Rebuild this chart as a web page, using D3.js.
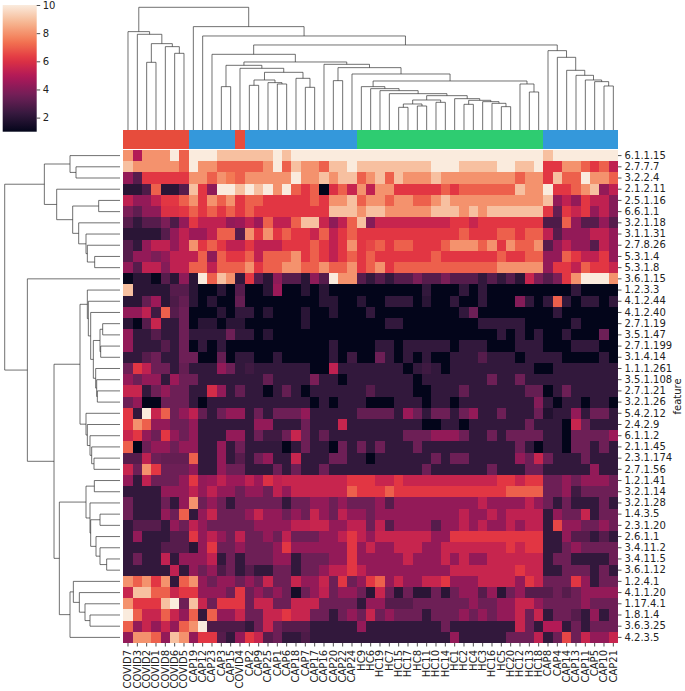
<!DOCTYPE html>
<html><head><meta charset="utf-8">
<script src="https://cdn.jsdelivr.net/npm/d3@7"></script>
<style>body{margin:0;background:#fff} text{font-family:"DejaVu Sans",sans-serif;fill:#222}</style>
</head><body><svg id="c" width="685" height="691"></svg>
<script>
const colLabels = ["COVID7","COVID3","COVID2","COVID1","COVID8","COVID6","COVID5","CAP19","CAP12","CAP23","CAP3","CAP15","COVID4","CAP2","CAP9","CAP25","CAP1","CAP6","CAP18","CAP7","CAP17","CAP16","CAP20","CAP22","CAP24","HC9","HC6","HC19","HC7","HC15","HC17","HC8","HC11","HC10","HC14","HC1","HC2","HC4","HC3","HC16","HC5","HC20","HC12","HC13","HC18","CAP8","CAP4","CAP14","CAP13","CAP11","CAP5","CAP10","CAP21"];
const rowLabels = ["6.1.1.15","2.7.7.7","3.2.2.4","2.1.2.11","2.5.1.16","6.6.1.1","3.2.1.18","3.1.1.31","2.7.8.26","5.3.1.4","5.3.1.8","3.6.1.15","1.2.3.3","4.1.2.44","4.1.2.40","2.7.1.19","3.5.1.47","2.7.1.199","3.1.4.14","1.1.1.261","3.5.1.108","2.7.1.21","3.2.1.26","5.4.2.12","2.4.2.9","6.1.1.2","2.1.1.45","2.3.1.174","2.7.1.56","1.2.1.41","3.2.1.14","3.2.1.28","1.4.3.5","2.3.1.20","2.6.1.1","3.4.11.2","3.4.11.5","3.6.1.12","1.2.4.1","4.1.1.20","1.17.4.1","1.8.1.4","3.6.3.25","4.2.3.5"];
const groups = ["COVID","CAP","HC"];
const groupColors = ["#e74c3c","#3498db","#2ecc71"];
const cbTicks = [2,4,6,8,10];
const vmin = 1, vmax = 10;
const values = [
[8,5,8,8,8,10,7,10,10,10,9,9,9,9,9,9,10,9,10,10,10,10,10,10,10,10,10,10,10,10,10,10,10,10,10,10,10,10,10,10,10,10,10,10,10,9,10,10,10,10,10,10,10],
[9,8,8,8,8,8,7,10,8,8,7,7,7,7,7,8,10,7,9,8,8,7,9,9,10,9,9,9,9,9,9,9,9,10,10,10,9,9,9,9,10,10,9,9,10,6.2,6.2,8,8,7,6.2,7,5.3],
[4.3,3,6.2,6.2,6.2,6.2,6.2,8,8,7,8,7.5,7,8,8,8,8,8,10,8,8,9,8,9,9,7,8,9,7,9,8,8,8,9,8,8,8,8,8,8,8,8,7,8,8,6.2,9,7,7,10,8,8,7],
[2,2,2.8,7,2,2,3,9,6.2,4.2,10,10,9,10,9,10,8,10,7,6.2,7,1,6,7,5.5,8,5.3,8,8,6.2,6.2,6.2,6.2,6.2,7,6.2,7,7,7,7,7,7,9,8,8,10,6.2,6.2,7,8,9,4.3,5.3],
[5.3,4.3,4.3,5.3,6.2,6.2,7,8,6.2,8,7,8,6.2,7,7,6.2,6.2,6.2,6.2,6.2,7,6.2,8,8,9,7,8,8,7,8,8,7,7,8,9,8,8,8,8,8,8,8,8,8,8,9,4.3,5.3,4.3,6.2,5.3,5.3,4],
[3.8,3.2,4.2,4.2,6,6,6.2,7,6.2,7,6.2,7,6.2,7,6.2,6.2,6.2,6.2,6.2,6.2,6.2,6.2,9,9,9,8,9,9,8,8,8,8,8,9,9,9,8,9,8,9,9,9,9,9,9,6.2,3.3,6.2,5.5,6.2,4.3,5.3,4],
[3,2.2,3,3,3.8,2.8,4.3,6.2,5.3,5.3,5.3,4.3,4.5,5.3,4.5,7,5.3,5.3,7,9,9,5.5,4.2,5.3,7,9,4,5.5,5.5,5.5,5.5,5.5,5.5,5.5,5.5,6.2,6.2,5.5,6.2,6.2,6.2,6.2,6.2,6.2,6.2,2.8,2.8,7,4.3,3,3,4.3,3],
[2,2,2,2,3,4.3,5.3,4.5,4.5,5.3,7,7,3,8,6.2,8,6.2,7,6.2,6.2,5.5,7,5.3,6.2,7,6.2,6.2,6.2,6.2,6.2,6.2,6.2,6.2,6.2,6.2,6.2,7,6.2,6.2,6.2,7,7,6.2,7,7,5.3,3,4.3,4.3,4.3,5.3,5.3,4.3],
[3,2.2,4.3,5.3,5.3,4.3,5.3,8,6.2,7,6.2,5.3,5.3,6.2,5.3,5.3,5.3,6.2,6.2,6.2,7,6.2,5.3,6.2,8,6.2,6.5,7,6.2,7,7,6.2,6.2,6.2,7,8,8,8,7,8,6.2,8,7,7,8,3,4.3,5.3,4.3,4.3,3,5.3,4.3],
[3,4.3,4.3,3.8,4.3,5.3,5.3,5.3,7,4.2,7,6.2,6.2,7,5.3,7,7,7,8,6.2,7,6.2,5.3,6.2,7,6.2,7,6.2,6.2,6.2,6.2,6.2,6.2,7,6.2,6.2,6.2,6.2,6.2,6.2,7,6.2,6.2,7,7,4.3,4.3,7,6.2,5.3,5.3,6.2,4.3],
[4.3,3,5.3,5.3,4,5.3,5.3,7,7,5.3,7,7,7,8,6.2,7,7,8,8,7,7,8,7,7,8,6.2,7,8,6.2,7,7,7,7,7,7,7,7,7,7,7,8,8,8,8,8,4.3,6.2,6.2,5.3,7,6.2,6.2,5.5],
[1.1,2,2,1.1,3,2,4.2,2,10,7,9,8,2.2,6.2,3,2,4.2,3,3,2,4.2,3,10,8,8,3,2.2,3,2.2,3,3,3.8,3,3,3.8,3,3,3,2.2,3,2.2,3,2,5.5,3.8,3,3.8,6.2,8,10,10,10,8],
[9,2,2,2,2,3,3,2,1,1,2,1,3,1,1,2,4.5,1,1,2,1,2,1,1,1,1,1,1,1,1,1,1,2.2,1,1,1,2.2,1,2.2,1,1,1,1,1,1,1,1,1,2.2,1,1,1,1],
[2,2,3.3,4.5,2,2.8,3.3,2,1,2,1,1,3.3,1,1,1,1,1,1,1,1,2,2,1,1,2,1,1,2.2,2.2,2.2,1,2,1,1,2.2,1,1,2.2,1,1,1,4,2.2,1,2.2,7,2.2,1,2.2,2.2,1,2.2],
[4.3,4.3,5.3,2.5,7,3,3.5,1,1,1,2,1,2.2,2.2,1,2,1,1,1,2,1,1,2,1,1,1,2.2,1,1,1,1,1,1,1,1,1,2.2,3.5,1,1,1,1,1,1,1,1,2.2,1,1,1,1,1,1],
[2,1,3,5.5,2.2,2.2,3.5,1,2,2,1,2,2,1,1,1,1,1,1,2,1,1,1,1,1,1,1,1,2.2,2.2,1,1,1,1,1,1,1,1,2.2,2.2,2.2,2.2,2.2,1,1,1,1,1,2.2,1,1,1,1],
[4.3,2.2,2.2,3,2.2,2.2,3.5,2.2,2.2,2.2,2.2,3.5,2.2,2.2,1,2,1,1,1,1,1,1,1,1,1,1,1,1,1,1,1,1,1,1,1,1,1,1,1,1,2.2,1,2.2,1,2.2,1,1,2.2,1,1,1,3.5,1],
[4.3,2.2,2.2,2.2,3,2.2,3.5,1,2.2,1,2.2,1,1,1,1,1,1,1,1,1,1,1,2.2,1,1,1,1,2.2,2.2,1,2.2,2.2,2.2,2.2,2.2,1,2.2,2.2,2.2,1,1,1,2.2,2.2,2.2,1,1,1,2.2,2.2,2.2,1,1],
[2.2,2.2,3,3.5,2.2,2.2,3.5,3.5,1,1,3.3,1,2.2,2.2,1,1,2.2,1,1,1,1,1,2.2,1,2.5,1,1,3.5,2.2,1,2.2,1,2.2,1,1,2.2,2.2,2.2,3,2.2,2.2,2.2,1,2.2,2.2,2.2,2.2,1,1,1,1,2.2,1],
[3.5,6.2,5.3,3.5,3.5,2.2,3.3,2.2,2.2,2.2,4.3,3.5,2.2,2.5,2.2,2.2,2.2,2.2,2.2,2.2,1,1,5.3,2.2,2.2,2.2,2.2,2.2,2.2,2.2,1,2.2,2.5,2.2,1,2.2,2.2,2.2,2.2,2.2,2.2,2.2,2.2,2.2,1,1,2.2,2.2,2.2,2.2,2.2,2.2,2.2],
[4.3,3.5,4.3,4.3,2.2,4.5,3.5,3.5,2.2,2.2,2.2,2.2,2.2,2.2,2.2,3.3,2.2,2.2,2.2,2.2,3.8,2.2,2.2,1,2.2,2.2,2.2,2.2,2.2,2.2,2.2,1,2.2,2.2,2.2,2.2,2.2,2.2,2.2,3.5,2.2,2.2,3.5,2.2,2.2,2.2,2.2,2.2,2.2,2.2,2.2,2.2,2.2],
[5.5,5.5,2.2,3.5,4.3,3.5,3.5,2.2,2.2,5.8,4.3,2.2,3.3,2.2,2.2,1,2.2,3.3,2.2,1,2.2,2.2,2.2,2.2,2.2,2.2,3,2.2,2.2,2.2,2.2,1,1,2.2,2.2,2.2,3.3,2.2,2.2,2.2,2.2,2.2,2.2,3.3,3.3,1,2.2,3.5,2.2,2.2,2.2,2.2,2.2],
[3.5,4.3,1,1,3.5,3.5,3.5,2.2,1,2.2,2.2,2.2,2.2,2.2,2.2,2.2,2.2,2.2,2.2,2.2,1,2.2,1,2.2,2.2,2.2,1,1,1,2.2,2.2,2.2,1,2.2,2.2,1,2.2,2.2,2.2,2.2,2.2,2.2,2.2,2.2,4,2.2,1,2.2,2.2,1,2.2,2.2,1],
[6.2,2.2,10,5.5,7,3.5,4.3,5.3,3.3,2.2,3.5,4.3,4.3,2.2,3.5,2.2,3.5,3.5,3.5,4.3,2.2,2.2,2.2,2.2,2.2,3.3,3.3,3.3,3.3,2.2,4.5,3.5,2.2,3.5,3.5,2.2,3.5,4.3,2.2,2.2,3.5,2.2,2.2,2.2,3.5,1.8,2.2,2.2,4.3,2.2,3.5,3.5,2.2],
[6.2,8,7,4.3,4.3,3.5,3.5,4.3,2.2,2.2,2.2,2.2,2.2,2.2,4.3,4.3,2.2,2.2,2.2,3.5,2.2,2.2,2.2,5.5,2.2,2.2,2.2,2.2,2.2,2.2,2.2,2.2,1,1,2.2,2.2,1,2.2,2.2,2.2,2.2,2.2,2.2,3.5,2.2,2.2,2.2,1,5.5,3.5,2.2,2.2,2.2],
[5.5,6.2,4.3,3.5,6.2,4.3,3.5,4.3,2.2,2.2,2.2,4.3,4.3,2.2,3.5,2.5,2.5,3.5,5.5,3.5,2.2,3.3,2.2,2.2,2.2,2.2,2.2,2.2,2.2,2.2,3.5,3.5,3.5,4.3,4.3,4.3,3.5,2.2,2.2,3.5,2.2,3.5,3.5,3.5,3.5,2.2,2.2,1,3.5,3.5,3.5,3.5,4.5],
[7,1,3.5,4.3,4.3,3.5,4.3,4.3,2.2,2.2,4.3,2.2,3.5,2.2,2.2,2.2,2.2,1,2.2,3.5,2.2,2.2,1,3.5,2.2,3.5,2.2,3.5,2.2,2.2,2.2,3.5,2.2,2.2,2.2,2.2,2.2,2.2,2.2,2.2,2.2,2.2,3.5,2.2,1,2.2,2.2,1,3.5,3.5,2.2,3.5,2.2],
[3,3,5.3,3.5,3.3,3.3,3.3,7,2.2,2.2,4.3,2.2,3,2.2,3.5,4.3,2.2,2.2,5.5,2.2,2.2,2.2,3.5,3.5,2.2,2.2,1,2.2,2.2,2.2,2.2,2.2,2.2,3.5,2.2,3.5,3.5,2.2,2.2,2.2,2.2,2.2,4.3,3.5,5.5,3.5,2.2,2.2,2.2,3.5,2.2,2.2,2.2],
[5.5,3.5,8,6.2,3.5,3.5,3.5,4.3,2.2,2.2,4.3,3.5,3.5,2.2,2.2,2.2,3.5,2.2,3.5,2.2,2.2,3.5,2.2,2.2,2.2,2.2,2.2,2.2,2.2,2.2,2.2,2.2,3.5,2.2,2.2,2.2,2.2,2.2,2.2,3.5,2.2,2.2,2.2,3.5,3.5,2.2,2.2,2.2,2.2,2.2,4.3,2.2,2.2],
[4.3,2.2,5.3,3.5,3.5,3.5,4.3,6.2,4.3,4.5,5.3,4.5,4.5,5.3,4.5,6,5.3,5.5,5.5,5.5,5.5,5.5,5.5,5.5,6.2,6.2,6.2,5.5,5.5,6.2,5.5,5.5,5.5,5.5,5.5,5.5,5.5,5.5,5.5,5.5,6.2,6.2,5.5,6.2,6.2,3.5,3.5,4.3,3.5,4.3,4.3,4.3,3.5],
[2.2,2.2,2.2,2.2,4.3,4.3,4.3,5.3,4.3,5.3,4.3,4.3,3.5,4.3,4.3,3.5,5.3,4.3,5.5,5.5,5.5,5.5,5.5,5.5,7,6.2,6.2,6.2,7,6.2,6.2,6.2,6.2,6.2,6.2,6.2,6.2,6.2,6.2,6.2,6.2,7,7,7,7,3.5,3.5,4.3,2.5,3.5,3.5,3.5,3.5],
[3.5,2.2,2.2,2.2,3.5,2.2,4.3,8,3.5,4.3,3.5,2.2,3.5,3.5,3.5,3.5,3.5,2.2,3.5,3.5,4.3,4.3,3.5,4.3,3.5,3.5,3.5,4.3,3,4.3,4.3,4.3,4.3,4.3,4.3,4.3,4.3,4.3,5.3,4.3,4.3,4.3,4.3,5.3,4.3,3.5,2.2,3.5,2.2,2.2,2.2,3.5,2.2],
[3.5,2.2,2.2,2.2,4.3,3.5,7,2.2,4.3,5.5,3.5,3.5,3.5,4.3,5.5,4.3,4.3,3.5,4.3,3.5,5.5,4.3,3.5,5.3,4.3,4.3,3.5,4.3,4.3,4.3,4.3,4.3,4.3,4.3,4.3,4.3,5.3,4.3,4.3,5.3,4.3,5.3,5.3,5.3,5.3,2.2,4.3,3.5,3.5,5.5,2.2,3.5,3.5],
[2.2,3,3,3,2.2,4.3,3.5,5.3,4.3,3.5,3.5,3.5,3.5,3.5,4.3,4.3,4.3,4.3,5.3,5.3,5.5,5.5,4.3,4.3,5.3,5.3,3.5,5.3,3,4.3,4.3,4.3,4.3,3,4.3,4.3,5.3,4.3,5.3,4.3,4.3,5.3,4.3,5.3,5.3,2.2,6.5,4.3,4.3,3.5,3.5,4.3,3.5],
[2.2,4.3,2.2,2.2,2.2,3,3,6.2,4.3,5.3,4.3,3.5,5.3,3.5,3.5,4.3,3.5,5.3,3.5,3.5,3.5,4.3,4.3,5.3,6.2,5.3,4.3,5.5,5.5,5.5,5.5,5.5,5.5,4.3,4.3,6.2,6.2,6.2,6.2,6.2,6.2,6.2,6.2,6.2,6.2,2.2,2.2,4.3,3,3,2.2,3,2.2],
[2.2,2.2,2.2,2.2,3,3,3,2,4.3,6.2,3.5,3.5,4.3,3.5,3.5,3.5,4.3,6.2,4.3,4.3,4.3,4.3,4.3,4.3,6.2,4.3,5.5,4.3,4.3,5.5,5.5,5.5,4.3,4.3,5.5,5.5,5.5,5.5,5.5,5.5,5.5,6.2,5.5,6.2,6.2,2.2,2.2,3.5,4.3,3.5,3.5,3.5,3.5],
[2.2,3.5,2.2,2.2,5.3,2.2,4.3,4.3,4.3,5.3,2.2,3.5,2.2,3.5,3.5,3.5,4.3,4.3,2.2,3.5,3.5,3.5,4.3,4.3,6.2,4.3,4.3,4.3,4.3,4.3,5.5,4.3,4.3,4.3,5.5,4.3,5.5,4.3,4.3,5.5,5.5,5.5,5.5,5.5,5.5,2.2,3.5,3.5,2.2,2.2,2.2,2.2,3.5],
[2.2,2.2,2.2,2.2,2.2,5.3,2.2,4.3,3.5,4.3,2.8,3.5,2.2,3,2.2,2.2,3.5,3.5,2.2,3.5,3.5,4.3,5.3,5.3,6.2,5.3,4.3,4.3,4.3,4.3,4.3,4.3,4.3,4.3,4.3,5.5,5.5,5.5,5.5,5.5,5.5,5.5,6.2,5.5,5.5,2.2,2.2,3.5,3.5,3.5,2.2,3.5,2.2],
[8,7,8,6.2,8,2.2,7,8,4.3,3.5,4.3,4.3,3.5,4.3,3.5,5.5,3.5,3.5,5.5,4.3,4.3,5.5,3.5,6.2,3.5,4.3,6.2,7,4.3,5.5,4.3,4.3,5.5,5.5,6.2,4.3,4.3,4.3,5.5,5.5,5.5,5.5,4.3,6.2,5.5,3.5,3.5,3.5,6.2,4.3,2.2,3.5,3.5],
[5.5,9,9,7,7,5.5,6.2,6.2,4.3,4.3,4.3,3.5,6.2,3.5,4.3,3.5,4.3,3.5,1.5,3.5,4.3,5.3,3.5,4.3,4.3,3.5,2,5.5,3.5,2,3.5,2,2,3.5,2,3.5,4.3,4.3,3,4.3,2,3.5,4.3,3,3,3,3.5,3,3.5,4.3,4.3,4.3,4.3],
[8,6.2,6.2,6.2,9,10,3.5,9,5.5,3.5,6.2,6.2,6.2,3.5,5.5,5.5,3.5,3.5,5.5,5.5,5.5,3.5,3.5,3.5,3.5,2.2,4.3,4.3,3,3,3,3.5,3.5,3.5,3.5,3.5,3.5,4.3,3.5,3.5,4.3,4.3,5.5,5.5,4.3,3.5,3.5,3.5,3.5,4.3,3.5,3.5,3.5],
[10,7,5.5,5.5,7,5.5,4.3,7,2.2,7,4.3,4.3,5.5,3.5,3.5,5.5,5.5,6.2,5.5,5.5,3.5,3.5,2.2,3.5,4.3,3.5,5.5,3.5,4.3,3.5,3.5,3.5,2.2,3.5,3.5,3.5,4.3,3.5,4.3,3.5,4.3,4.3,5.5,3.5,5.5,2.2,3.5,3.5,3,2.2,4.3,2.2,3.5],
[7,4.3,5.5,4.3,5.5,4.3,7,8,10,2.8,2.8,2.8,2.8,2.2,3.5,5.5,3.5,3,3,3,2.2,2.2,2.2,2.2,2.2,4.3,2.2,2.2,2.2,2.2,2.2,2.2,2.2,2.2,3.5,2.2,2.2,2.2,2.2,2.2,2.2,2.2,5.5,3.5,2.2,5,5,2.2,3.5,2.2,3.5,3.5,3.5],
[4.3,8,8,7,4.3,9,8,4.3,6.2,6.2,3,2.2,4.3,6.2,5.5,3,3.5,2.2,2.2,2.8,2.2,2.2,2.2,2.2,2.2,2.2,2.2,2.2,2.2,2.2,2.2,2.2,2.2,2.2,2.2,4.3,2.2,2.2,2.2,2.2,2.2,3.5,3.5,3.5,5.3,2.2,3.5,6.5,3.5,5.5,4.3,4.3,5.5]
];
// dendrograms: [mergeHeight, left, right]; integers are leaf indices
const colTree = [368,
  [295, 0, [287, 1, [259, [203, 2, 3], [250, 4, [230, 5, 6]]]]],
  [310, 7, [282, 8, [255,
    [227, 9, [204,
      [194, [130, 10, 11], [185, 12, [173,
        [150, [134, 13, 14], [142, 15, [138, 16, 17]]],
        [155, 18, [128, 19, 20]]]]],
      [197, 21, [187, [148, 22, 23], [168, 24, [147,
        [130, 25, [124, 26, [118, 27, [109, 28, [103,
          [90, [78, [68, 29, 30], [72, 31, 32]], [83, 33, 34]],
          [94, 35, [89, [77, 36, 37], [85, 38, [80, 39, [70, 40, 41]]]]]]]]]],
        [138, 42, [114, 43, 44]]]]]]]],
    [238, 45, [218, 46, [179, 47, [164, 48, [150, 49, [145, 50, [132, 51, 52]]]]]]]]]]];
const rowTree = [346,
  [227, [150, 0, [132, 1, 2]],
        [190, 3, [142, [64, 4, 5], [124, 6, [102, 7, [98, 8, [76, 9, 10]]]]]]],
  [278, 11, [198,
    [120,
      [98, 12, [95, 13, [88, 14, [80, [60, [52, 15, 16], [58, 17, 18]], [73, 19, [70, 20, [68, 21, 22]]]]]]],
      [102, 23, [98, 24, [90, 25, [85, 26, [78, 27, 28]]]]]],
    [182,
      [102, [77, 29, 30], [90, 31, [88, [60, 32, 33], [72, 34, [60, 35, [40, 36, 37]]]]]],
      [150, [140, 38, [122, 39, [105, 40, [90, 41, 42]]]], 43]]]]];

// rocket colormap
const rocketStops = ["#03051a","#35193e","#701f57","#ad1759","#e13342","#f37651","#f6b48f","#faebdd"];
const rocket = d3.scaleLinear().domain(d3.range(rocketStops.length).map(i => i/(rocketStops.length-1))).range(rocketStops).interpolate(d3.interpolateRgb).clamp(true);
const color = v => rocket((v - vmin)/(vmax - vmin));

const svg = d3.select("#c");
const hx0 = 123.33, hx1 = 618, hy0 = 150, hy1 = 643;
const x = d3.scaleBand().domain(d3.range(colLabels.length)).range([hx0, hx1]).padding(0);
const y = d3.scaleBand().domain(d3.range(rowLabels.length)).range([hy0, hy1]).padding(0);

// heatmap cells
const cells = [];
values.forEach((row, r) => row.forEach((v, c) => cells.push({r, c, v})));
svg.append("g").attr("shape-rendering","crispEdges").selectAll("rect").data(cells).join("rect")
  .attr("x", d => x(d.c)).attr("y", d => y(d.r))
  .attr("width", x.bandwidth()+0.4).attr("height", y.bandwidth()+0.4)
  .attr("fill", d => color(d.v));

// column colour bar
const groupOf = l => groups.find(g => l.startsWith(g));
const gColor = d3.scaleOrdinal().domain(groups).range(groupColors);
svg.append("g").attr("shape-rendering","crispEdges").selectAll("rect").data(colLabels).join("rect")
  .attr("x", (d,i) => x(i)).attr("y", 130).attr("width", x.bandwidth()+0.4).attr("height", 19)
  .attr("fill", d => gColor(groupOf(d)));

// axes
const xAxis = d3.axisBottom(d3.scaleBand().domain(colLabels).range([hx0, hx1])).tickSize(3.5).tickPadding(2);
const gx = svg.append("g").attr("transform", `translate(0,${hy1})`).call(xAxis);
gx.select(".domain").remove();
gx.selectAll(".tick line").attr("stroke","#222").attr("stroke-width",0.8);
gx.selectAll(".tick text").attr("font-size",10).attr("font-family","DejaVu Sans")
  .attr("transform","rotate(-90)").attr("text-anchor","end").attr("dx",0).attr("dy","0.35em").attr("y",0).attr("x",-7);

const yAxis = d3.axisRight(d3.scaleBand().domain(rowLabels).range([hy0, hy1])).tickSize(3.5).tickPadding(3);
const gy = svg.append("g").attr("transform", `translate(${hx1},0)`).call(yAxis);
gy.select(".domain").remove();
gy.selectAll(".tick line").attr("stroke","#222").attr("stroke-width",0.8);
gy.selectAll(".tick text").attr("font-size",10).attr("font-family","DejaVu Sans");

svg.append("text").attr("transform", `translate(681,${(hy0+hy1)/2}) rotate(-90)`)
  .attr("text-anchor","middle").attr("font-size",10).text("feature");

// dendrograms
function drawTree(tree, leafPos, hScale, horizontal, g) {
  function walk(n) {
    if (typeof n === "number") return {p: leafPos(n), h: 0};
    const a = walk(n[1]), b = walk(n[2]);
    const h = n[0];
    const pts = [[a.p, a.h], [a.p, h], [b.p, h], [b.p, b.h]];
    const path = d3.line()(pts.map(([p, hh]) => horizontal ? [hScale(hh), p] : [p, hScale(hh)]));
    g.append("path").attr("d", path);
    return {p: (a.p + b.p)/2, h};
  }
  walk(tree);
}
const gCol = svg.append("g").attr("fill","none").attr("stroke","#333").attr("stroke-width",0.7);
drawTree(colTree, i => x(i) + x.bandwidth()/2, d3.scaleLinear().domain([0, 368]).range([130, 7.3]), false, gCol);
const gRow = svg.append("g").attr("fill","none").attr("stroke","#333").attr("stroke-width",0.7);
drawTree(rowTree, i => y(i) + y.bandwidth()/2, d3.scaleLinear().domain([0, 346]).range([120, 4.7]), true, gRow);

// colour bar
const cbx = 2.7, cbw = 34, cby0 = 5, cby1 = 131.7;
const defs = svg.append("defs");
const grad = defs.append("linearGradient").attr("id","cbg").attr("x1",0).attr("y1",1).attr("x2",0).attr("y2",0);
d3.range(0, 1.0001, 0.05).forEach(t => grad.append("stop").attr("offset", t).attr("stop-color", rocket(t)));
svg.append("rect").attr("x", cbx).attr("y", cby0).attr("width", cbw).attr("height", cby1-cby0).attr("fill","url(#cbg)");
const cbScale = d3.scaleLinear().domain([vmin, vmax]).range([cby1, cby0]);
const gcb = svg.append("g").attr("transform", `translate(${cbx+cbw},0)`).call(d3.axisRight(cbScale).tickValues(cbTicks).tickSize(3.5).tickPadding(2.5));
gcb.select(".domain").remove();
gcb.selectAll(".tick line").attr("stroke","#222").attr("stroke-width",0.8);
gcb.selectAll(".tick text").attr("font-size",10).attr("font-family","DejaVu Sans");
</script>
</body></html>
